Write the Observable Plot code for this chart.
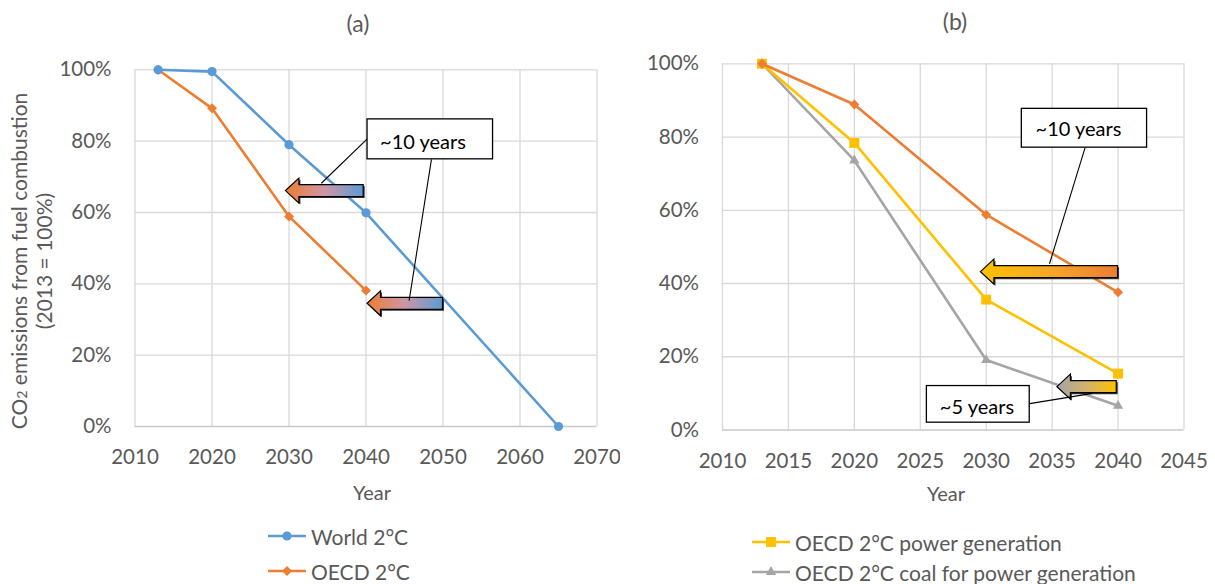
<!DOCTYPE html>
<html>
<head>
<meta charset="utf-8">
<script src="https://cdn.jsdelivr.net/npm/d3@7"></script>
<script src="https://cdn.jsdelivr.net/npm/@observablehq/plot@0.6"></script>
<style>
  body { margin: 0; background: #fff; font-family: Lato, "Open Sans", sans-serif; color: #595959; }
  #wrap { position: relative; width: 1215px; height: 584px; overflow: hidden; }
  .abs { position: absolute; white-space: nowrap; }
  .ttl { font-size: 23px; transform: translate(-50%, -50%); }
  .xl { font-size: 20px; transform: translate(-50%, -50%); }
  .leg { font-size: 21px; display: flex; align-items: center; height: 26px; transform: translateY(-50%); }
  .leg svg { margin-right: 5px; }
  #ylab { font-size: 21px; text-align: center; line-height: 22px; width: 440px; height: 44px; transform: rotate(-90deg); transform-origin: 50% 50%; }
</style>
</head>
<body>
<div id="wrap"></div>
<script>
// ---------- data ----------
const yearsWorld = [2013, 2020, 2030, 2040, 2065];
const worldA = [1.00, 0.995, 0.790, 0.599, 0.00];
const yearsOecd = [2013, 2020, 2030, 2040];
const oecdA = [1.00, 0.892, 0.589, 0.381];
const oecdB = [1.00, 0.889, 0.588, 0.376];
const powerB = [1.00, 0.784, 0.356, 0.154];
const coalB = [1.00, 0.736, 0.191, 0.066];

const xTicksA = [2010, 2020, 2030, 2040, 2050, 2060, 2070];
const xTicksB = [2010, 2015, 2020, 2025, 2030, 2035, 2040, 2045];
const yTicks = [0, 0.2, 0.4, 0.6, 0.8, 1.0];

const seriesNames = ["World 2°C", "OECD 2°C", "OECD 2°C power generation", "OECD 2°C coal for power generation"];
const seriesColors = ["#5B9BD5", "#ED7D31", "#FFC000", "#A5A5A5"];

// annotations (data coordinates)
const arrowsA = [{tip: 2029.6, tail: 2039.7, y: 0.660}, {tip: 2040.2, tail: 2050.0, y: 0.344}];
const arrowStopsA = [["#ED7D31", "#CE96A6", "#5B9BD5"], ["#ED7D31", "#CE96A6", "#5B9BD5"]];
const boxesA = [{x1: 2040.2, x2: 2056.5, y1: 0.749, y2: 0.861}];
const labelsA = [{x: 2047.4, y: 0.797, text: "~10 years"}];
const leadersA = [{x1: 2040.2, y1: 0.807, x2: 2034.2, y2: 0.682}, {x1: 2048.5, y1: 0.749, x2: 2045.6, y2: 0.353}];

const arrowsB = [{tip: 2029.6, tail: 2040.0, y: 0.431}, {tip: 2035.4, tail: 2039.9, y: 0.117}];
const arrowStopsB = [["#FFC000", "#F7A827", "#ED7D31"], ["#A5A5A5", "#D2B26A", "#FFC000"]];
const boxesB = [{x1: 2032.7, x2: 2042.2, y1: 0.771, y2: 0.877}, {x1: 2025.5, x2: 2033.3, y1: 0.020, y2: 0.120}];
const labelsB = [{x: 2037.0, y: 0.820, text: "~10 years"}, {x: 2029.3, y: 0.061, text: "~5 years"}];
const leadersB = [{x1: 2037.5, y1: 0.771, x2: 2034.8, y2: 0.454}, {x1: 2033.3, y1: 0.072, x2: 2038.05, y2: 0.100}];

// ---------- helpers ----------
const wrap = document.getElementById("wrap");
const ns = "http://www.w3.org/2000/svg";
const toRows = (xs, ys) => xs.map((x, i) => ({x, y: ys[i]}));

function arrowsMark(list, stopsList, prefix) {
  return (index, scales) => {
    const g = document.createElementNS(ns, "g");
    const defs = document.createElementNS(ns, "defs");
    g.appendChild(defs);
    list.forEach((a, i) => {
      const grad = document.createElementNS(ns, "linearGradient");
      grad.setAttribute("id", prefix + i);
      stopsList[i].forEach((c, j, arr) => {
        const s = document.createElementNS(ns, "stop");
        s.setAttribute("offset", j / (arr.length - 1));
        s.setAttribute("stop-color", c);
        grad.appendChild(s);
      });
      defs.appendChild(grad);
      const xt = scales.x(a.tip), xe = scales.x(a.tail), yc = scales.y(a.y);
      const bh = 6, hh = 12.5, hl = 13.5;
      const d = `M${xe},${yc - bh}L${xt + hl},${yc - bh}L${xt + hl},${yc - hh}L${xt},${yc}L${xt + hl},${yc + hh}L${xt + hl},${yc + bh}L${xe},${yc + bh}Z`;
      const sh = document.createElementNS(ns, "path");
      sh.setAttribute("d", d);
      sh.setAttribute("fill", "#3a3a3a");
      sh.setAttribute("transform", "translate(1.5,1.5)");
      g.appendChild(sh);
      const p = document.createElementNS(ns, "path");
      p.setAttribute("d", d);
      p.setAttribute("fill", `url(#${prefix + i})`);
      p.setAttribute("stroke", "#000");
      p.setAttribute("stroke-width", 1.2);
      p.setAttribute("stroke-linejoin", "miter");
      g.appendChild(p);
    });
    return g;
  };
}

function gridMarks(xt, yt) {
  return [
    Plot.ruleX(xt, {stroke: "#D9D9D9", strokeWidth: 1.3}),
    Plot.ruleY(yt.filter(d => d > 0), {stroke: "#D9D9D9", strokeWidth: 1.3}),
    Plot.ruleY([0], {stroke: "#C8C8C8", strokeWidth: 1.3})
  ];
}

function annotationMarks(arrows, stops, prefix, boxes, labels, leaders) {
  return [
    arrowsMark(arrows, stops, prefix),
    Plot.link(leaders, {x1: "x1", y1: "y1", x2: "x2", y2: "y2", stroke: "#000", strokeWidth: 1.1}),
    Plot.rect(boxes, {x1: "x1", x2: "x2", y1: "y1", y2: "y2", fill: "#fff", stroke: "#000", strokeWidth: 1.3}),
    Plot.text(labels, {x: "x", y: "y", text: "text", fill: "#000", fontSize: 20})
  ];
}

const common = {
  style: {fontFamily: "Lato, 'Open Sans', sans-serif", fontSize: "20.5px", color: "#595959", background: "#fff", overflow: "visible"}
};

// ---------- chart (a) ----------
const plotA = Plot.plot({
  ...common,
  width: 620, height: 500,
  marginLeft: 134.5, marginRight: 23.5, marginTop: 69.3, marginBottom: 74,
  x: {domain: [2010, 2070], ticks: xTicksA, tickFormat: d => String(d), tickSize: 0, tickPadding: 23, label: null},
  y: {domain: [0, 1], ticks: yTicks, tickFormat: d3.format(".0%"), tickSize: 0, tickPadding: 23.5, label: null},
  marks: [
    ...gridMarks(xTicksA, yTicks),
    Plot.line(toRows(yearsOecd, oecdA), {x: "x", y: "y", stroke: seriesColors[1], strokeWidth: 2.6}),
    Plot.dot(toRows(yearsOecd, oecdA), {x: "x", y: "y", fill: seriesColors[1], symbol: "diamond2", r: 4.5}),
    Plot.line(toRows(yearsWorld, worldA), {x: "x", y: "y", stroke: seriesColors[0], strokeWidth: 2.6}),
    Plot.dot(toRows(yearsWorld, worldA), {x: "x", y: "y", fill: seriesColors[0], r: 4.6}),
    ...annotationMarks(arrowsA, arrowStopsA, "gA", boxesA, labelsA, leadersA)
  ]
});
plotA.style.position = "absolute"; plotA.style.left = "0px"; plotA.style.top = "0px";
wrap.appendChild(plotA);

// ---------- chart (b) ----------
const plotB = Plot.plot({
  ...common,
  width: 595, height: 500,
  marginLeft: 102, marginRight: 31.5, marginTop: 63.3, marginBottom: 70.5,
  x: {domain: [2010, 2045], ticks: xTicksB, tickFormat: d => String(d), tickSize: 0, tickPadding: 23, label: null},
  y: {domain: [0, 1], ticks: yTicks, tickFormat: d3.format(".0%"), tickSize: 0, tickPadding: 23.5, label: null},
  marks: [
    ...gridMarks(xTicksB, yTicks),
    Plot.line(toRows(yearsOecd, coalB), {x: "x", y: "y", stroke: seriesColors[3], strokeWidth: 2.6}),
    Plot.dot(toRows(yearsOecd, coalB), {x: "x", y: "y", fill: seriesColors[3], symbol: "triangle", r: 3.8}),
    Plot.line(toRows(yearsOecd, powerB), {x: "x", y: "y", stroke: seriesColors[2], strokeWidth: 2.6}),
    Plot.dot(toRows(yearsOecd, powerB), {x: "x", y: "y", fill: seriesColors[2], symbol: "square", r: 5.6}),
    Plot.line(toRows(yearsOecd, oecdB), {x: "x", y: "y", stroke: seriesColors[1], strokeWidth: 2.6}),
    Plot.dot(toRows(yearsOecd, oecdB), {x: "x", y: "y", fill: seriesColors[1], symbol: "diamond2", r: 4.5}),
    ...annotationMarks(arrowsB, arrowStopsB, "gB", boxesB, labelsB, leadersB)
  ]
});
plotB.style.position = "absolute"; plotB.style.left = "620px"; plotB.style.top = "0px";
wrap.appendChild(plotB);

// ---------- text around the charts ----------
function addDiv(cls, html, left, top) {
  const d = document.createElement("div");
  d.className = "abs " + cls;
  d.innerHTML = html;
  d.style.left = left + "px";
  d.style.top = top + "px";
  wrap.appendChild(d);
  return d;
}
addDiv("ttl", "(a)", 358, 23);
addDiv("ttl", "(b)", 955, 21);
addDiv("xl", "Year", 372, 492);
addDiv("xl", "Year", 946, 493);
addDiv("", "CO<span style=\"font-size:0.68em\">2</span> emissions from fuel combustion<br>(2013 = 100%)", 30 - 220, 261 - 22).id = "ylab";

function legendRow(left, cy, color, symbolName, r, label) {
  const sym = {circle: d3.symbolCircle, diamond2: d3.symbolDiamond2, square: d3.symbolSquare, triangle: d3.symbolTriangle}[symbolName];
  const path = d3.symbol(sym, Math.PI * r * r)();
  const html = `<svg width="38" height="16" viewBox="0 0 38 16"><line x1="0" x2="38" y1="8" y2="8" stroke="${color}" stroke-width="2.6"/><path d="${path}" transform="translate(19,8)" fill="${color}"/></svg><span>${label}</span>`;
  addDiv("leg", html, left, cy);
}
legendRow(268, 536, seriesColors[0], "circle", 4.6, seriesNames[0]);
legendRow(268, 571, seriesColors[1], "diamond2", 4.5, seriesNames[1]);
legendRow(752, 542, seriesColors[2], "square", 5.6, seriesNames[2]);
legendRow(752, 572, seriesColors[3], "triangle", 3.8, seriesNames[3]);
</script>
</body>
</html>
